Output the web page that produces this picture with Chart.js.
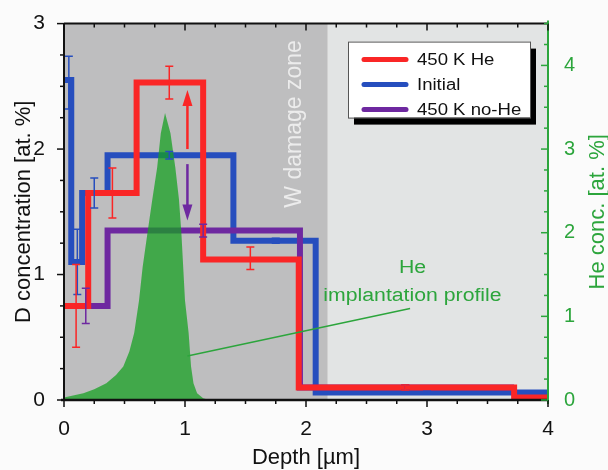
<!DOCTYPE html>
<html>
<head>
<meta charset="utf-8">
<script src="https://cdn.jsdelivr.net/npm/chart.js@4.4.0/dist/chart.umd.min.js"></script>
<style>
  body { margin: 0; background: #fbfbfb; }
  canvas { display: block; }
</style>
</head>
<body>
<canvas id="myChart" width="608" height="470"></canvas>
<script>
// D depth profiles, step values (x = start of step, y = level)
const initialX = [0, 0.06, 0.15, 0.36, 1.40, 2.08, 4.0]
const initialY = [2.55, 1.10, 1.65, 1.95, 1.27, 0.06, 0.06]
const heX = [0, 0.20, 0.60, 1.15, 1.94, 3.72, 4.0]
const heY = [0.75, 1.65, 2.53, 1.12, 0.10, 0.02, 0.02]
const noHeX = [0, 0.36, 1.95, 3.72]
const noHeY = [0.75, 1.35, 0.10, 0.10]

// error bars [depth, value, +/-]
const initialErr = [[0.04, 2.53, 0.21], [0.11, 1.10, 0.26], [0.25, 1.65, 0.12], [0.87, 1.95, 0.03], [1.75, 1.27, 0.02], [3.0, 0.06, 0.01]]
const heErr = [[0.10, 0.75, 0.33], [0.40, 1.65, 0.20], [0.87, 2.53, 0.13], [1.54, 1.13, 0.09], [2.82, 0.10, 0.02]]
const noHeErr = [[0.18, 0.75, 0.14], [1.15, 1.35, 0.05], [2.82, 0.10, 0.02]]

// He implantation profile (right axis)
const heDepth = [0, 0.16, 0.25, 0.35, 0.43, 0.49, 0.54, 0.58, 0.62, 0.65, 0.69, 0.73, 0.77, 0.80, 0.835, 0.88, 0.92, 0.95, 0.97, 1.00, 1.03, 1.05, 1.07, 1.10, 1.15, 1.20]
const heConc = [0.03, 0.08, 0.13, 0.20, 0.30, 0.40, 0.58, 0.80, 1.19, 1.59, 2.00, 2.40, 2.78, 3.19, 3.43, 3.19, 2.78, 2.40, 2.00, 1.19, 0.80, 0.40, 0.20, 0.08, 0.02, 0]

const seriesLabels = ['450 K He', 'Initial', '450 K no-He']
const xTicks = [0, 1, 2, 3, 4]
const yTicks = [0, 1, 2, 3]
const y2Ticks = [0, 1, 2, 3, 4]

const damageZoneEnd = 2.18
const lightZoneEnd = 4.0
// arrows at depth 1.02: red up, purple down
const arrowDepth = 1.02
const redArrow = [2.00, 2.47]
const purpleArrow = [1.88, 1.43]

const RED = 'rgb(250,38,38)'
const BLUE = 'rgb(38,78,190)'
const PURPLE = 'rgb(110,40,160)'
const GREEN = 'rgb(44,165,60)'
const FONT = "'Liberation Sans', Arial, sans-serif"

const toPts = (xs, ys) => xs.map((x, i) => ({ x: x, y: ys[i] }))

const drawStretched = (ctx, text, x, y, sx) => {
    ctx.save()
    ctx.translate(x, y)
    ctx.scale(sx, 1)
    ctx.fillText(text, 0, 0)
    ctx.restore()
}

const arrow = (ctx, x, y0, y1, color) => {
    const dir = y1 < y0 ? 1 : -1
    ctx.strokeStyle = color
    ctx.fillStyle = color
    ctx.lineWidth = 2.5
    ctx.beginPath()
    ctx.moveTo(x, y0)
    ctx.lineTo(x, y1 + dir * 12)
    ctx.stroke()
    ctx.beginPath()
    ctx.moveTo(x, y1)
    ctx.lineTo(x - 5, y1 + dir * 16)
    ctx.lineTo(x + 5, y1 + dir * 16)
    ctx.closePath()
    ctx.fill()
}

const decoPlugin = {
    id: 'deco',
    beforeDatasetsDraw(chart) {
        const { ctx, chartArea: a, scales } = chart
        const x = scales.x
        ctx.save()
        // shaded zones
        ctx.fillStyle = 'rgb(190,190,191)'
        ctx.fillRect(a.left, a.top, x.getPixelForValue(damageZoneEnd) - a.left, a.bottom - a.top)
        ctx.fillStyle = 'rgb(226,228,228)'
        ctx.fillRect(x.getPixelForValue(damageZoneEnd), a.top, x.getPixelForValue(lightZoneEnd) - x.getPixelForValue(damageZoneEnd), a.bottom - a.top)

        // W damage zone label
        ctx.save()
        ctx.translate(x.getPixelForValue(1.91), scales.y.getPixelForValue(2.2))
        ctx.rotate(-Math.PI / 2)
        ctx.fillStyle = 'rgb(236,236,236)'
        ctx.font = '23px ' + FONT
        ctx.textAlign = 'center'
        ctx.textBaseline = 'middle'
        ctx.fillText('W damage zone', 0, 0)
        ctx.restore()
        ctx.restore()
    },
    afterDatasetsDraw(chart) {
        const { ctx, chartArea: a, scales } = chart
        const x = scales.x, y = scales.y, y2 = scales.y2
        ctx.save()

        // error bars
        const errSets = [[initialErr, BLUE], [noHeErr, PURPLE], [heErr, RED]]
        errSets.forEach(([list, color]) => {
            ctx.strokeStyle = color
            ctx.lineWidth = 1.5
            list.forEach(([d, v, e]) => {
                const px = x.getPixelForValue(d)
                const top = y.getPixelForValue(v + e)
                const bot = y.getPixelForValue(v - e)
                ctx.beginPath()
                ctx.moveTo(px, top); ctx.lineTo(px, bot)
                ctx.moveTo(px - 4, top); ctx.lineTo(px + 4, top)
                ctx.moveTo(px - 4, bot); ctx.lineTo(px + 4, bot)
                ctx.stroke()
            })
        })

        // arrows
        const ax = x.getPixelForValue(arrowDepth)
        arrow(ctx, ax, y.getPixelForValue(redArrow[0]), y.getPixelForValue(redArrow[1]), RED)
        arrow(ctx, ax, y.getPixelForValue(purpleArrow[0]), y.getPixelForValue(purpleArrow[1]), PURPLE)

        // pointer + annotation
        ctx.strokeStyle = GREEN
        ctx.lineWidth = 1.5
        ctx.beginPath()
        ctx.moveTo(x.getPixelForValue(1.02), y.getPixelForValue(0.35))
        ctx.lineTo(x.getPixelForValue(2.86), y.getPixelForValue(0.73))
        ctx.stroke()
        ctx.fillStyle = GREEN
        ctx.font = '18px ' + FONT
        ctx.textAlign = 'center'
        ctx.textBaseline = 'middle'
        drawStretched(ctx, 'He', x.getPixelForValue(2.88), y.getPixelForValue(1.05), 1.18)
        drawStretched(ctx, 'implantation profile', x.getPixelForValue(2.88), y.getPixelForValue(0.83), 1.18)

        // frame
        ctx.lineWidth = 2
        ctx.strokeStyle = '#111'
        ctx.beginPath()
        ctx.moveTo(a.left, a.top); ctx.lineTo(a.right, a.top)
        ctx.moveTo(a.left, a.top); ctx.lineTo(a.left, a.bottom)
        ctx.stroke()
        ctx.lineWidth = 2.5
        ctx.beginPath()
        ctx.moveTo(a.left - 3, a.bottom); ctx.lineTo(a.right, a.bottom)
        ctx.stroke()
        ctx.strokeStyle = GREEN
        ctx.lineWidth = 2
        ctx.beginPath()
        ctx.moveTo(a.right, a.top - 3); ctx.lineTo(a.right, a.bottom + 4)
        ctx.stroke()

        // tick marks, minor every 0.25
        ctx.lineWidth = 1.5
        ctx.strokeStyle = '#111'
        for (let v = 0; v <= 4.001; v += 0.25) {
            const px = x.getPixelForValue(v)
            const len = Number.isInteger(v) ? 7 : 4
            ctx.beginPath()
            ctx.moveTo(px, a.bottom); ctx.lineTo(px, a.bottom + len)
            ctx.moveTo(px, a.top); ctx.lineTo(px, a.top + len)
            ctx.stroke()
        }
        for (let v = 0; v <= 3.001; v += 0.25) {
            const py = y.getPixelForValue(v)
            const len = Number.isInteger(v) ? 7 : 4
            ctx.beginPath()
            ctx.moveTo(a.left - len, py); ctx.lineTo(a.left, py)
            ctx.stroke()
        }
        ctx.strokeStyle = GREEN
        for (let v = 0; v <= 4.501; v += 0.25) {
            const py = y2.getPixelForValue(v)
            const len = Number.isInteger(v) ? 7 : 4
            ctx.beginPath()
            ctx.moveTo(a.right - len, py); ctx.lineTo(a.right, py)
            ctx.stroke()
        }

        // legend with drop shadow
        const lx = a.left + 284, ly = a.top + 18, lw = 182, lh = 76
        ctx.fillStyle = '#000'
        ctx.fillRect(lx + 6, ly + 7, lw, lh)
        ctx.fillStyle = '#fff'
        ctx.fillRect(lx, ly, lw, lh)
        ctx.strokeStyle = '#555'
        ctx.lineWidth = 1
        ctx.strokeRect(lx + 0.5, ly + 0.5, lw, lh)
        const legendColors = [RED, BLUE, PURPLE]
        ctx.font = '16px ' + FONT
        ctx.textAlign = 'left'
        ctx.textBaseline = 'middle'
        seriesLabels.forEach((lab, i) => {
            const ry = ly + 18 + i * 25
            ctx.strokeStyle = legendColors[i]
            ctx.lineWidth = 5
            ctx.lineCap = 'round'
            ctx.beginPath()
            ctx.moveTo(lx + 16, ry); ctx.lineTo(lx + 58, ry)
            ctx.stroke()
            ctx.fillStyle = '#111'
            drawStretched(ctx, lab, lx + 69, ry + 1, 1.16)
        })
        ctx.restore()

        // axis titles
        ctx.save()
        ctx.fillStyle = '#111'
        ctx.font = '22px ' + FONT
        ctx.textAlign = 'center'
        ctx.textBaseline = 'middle'
        ctx.fillText('Depth [\u00b5m]', (a.left + a.right) / 2, 458)
        ctx.translate(24, (a.top + a.bottom) / 2)
        ctx.rotate(-Math.PI / 2)
        ctx.fillText('D concentration [at. %]', 0, 0)
        ctx.restore()
        ctx.save()
        ctx.fillStyle = GREEN
        ctx.font = '22px ' + FONT
        ctx.textAlign = 'center'
        ctx.textBaseline = 'middle'
        ctx.translate(598, (a.top + a.bottom) / 2)
        ctx.rotate(-Math.PI / 2)
        ctx.fillText('He conc. [at. %]', 0, 0)
        ctx.restore()
    }
}

const intLabel = (list) => (v) => list.includes(v) ? String(v) : ''

const ctx = document.getElementById('myChart')
const myChart = new Chart(ctx, {
    type: 'line',
    data: {
        datasets: [
            {
                label: 'He implantation profile',
                data: toPts(heDepth, heConc),
                yAxisID: 'y2',
                borderWidth: 0,
                backgroundColor: 'rgba(22,160,34,0.74)',
                fill: 'origin',
                pointRadius: 0,
                tension: 0,
            },
            {
                label: seriesLabels[0],
                data: toPts(heX, heY),
                yAxisID: 'y',
                stepped: 'before',
                borderColor: RED,
                borderWidth: 6,
                pointRadius: 0,
                fill: false,
            },
            {
                label: seriesLabels[2],
                data: toPts(noHeX, noHeY),
                yAxisID: 'y',
                stepped: 'before',
                borderColor: PURPLE,
                borderWidth: 6,
                pointRadius: 0,
                fill: false,
            },
            {
                label: seriesLabels[1],
                data: toPts(initialX, initialY),
                yAxisID: 'y',
                stepped: 'before',
                borderColor: BLUE,
                borderWidth: 6,
                pointRadius: 0,
                fill: false,
            },
        ],
    },
    options: {
        responsive: false,
        animation: false,
        devicePixelRatio: 1,
        layout: { padding: { top: 23, right: 0, left: 0, bottom: 0 } },
        plugins: {
            legend: { display: false },
            tooltip: { enabled: false },
        },
        scales: {
            x: {
                type: 'linear',
                position: 'bottom',
                min: 0,
                max: 4,
                grid: { display: false },
                border: { display: false },
                ticks: {
                    stepSize: 1,
                    padding: 9,
                    color: '#111',
                    font: { size: 21, family: FONT },
                    callback: intLabel(xTicks),
                },
                afterFit: (s) => { s.height = 70 },
            },
            y: {
                position: 'left',
                min: 0,
                max: 3,
                grid: { display: false },
                border: { display: false },
                ticks: {
                    stepSize: 1,
                    padding: 11,
                    color: '#111',
                    font: { size: 21, family: FONT },
                    callback: intLabel(yTicks),
                },
                afterFit: (s) => { s.width = 64 },
            },
            y2: {
                position: 'right',
                min: 0,
                max: 4.5,
                grid: { display: false },
                border: { display: false },
                ticks: {
                    stepSize: 1,
                    padding: 8,
                    color: GREEN,
                    font: { size: 20, family: FONT },
                    callback: intLabel(y2Ticks),
                },
                afterFit: (s) => { s.width = 60 },
            },
        },
    },
    plugins: [decoPlugin],
})
</script>
</body>
</html>
